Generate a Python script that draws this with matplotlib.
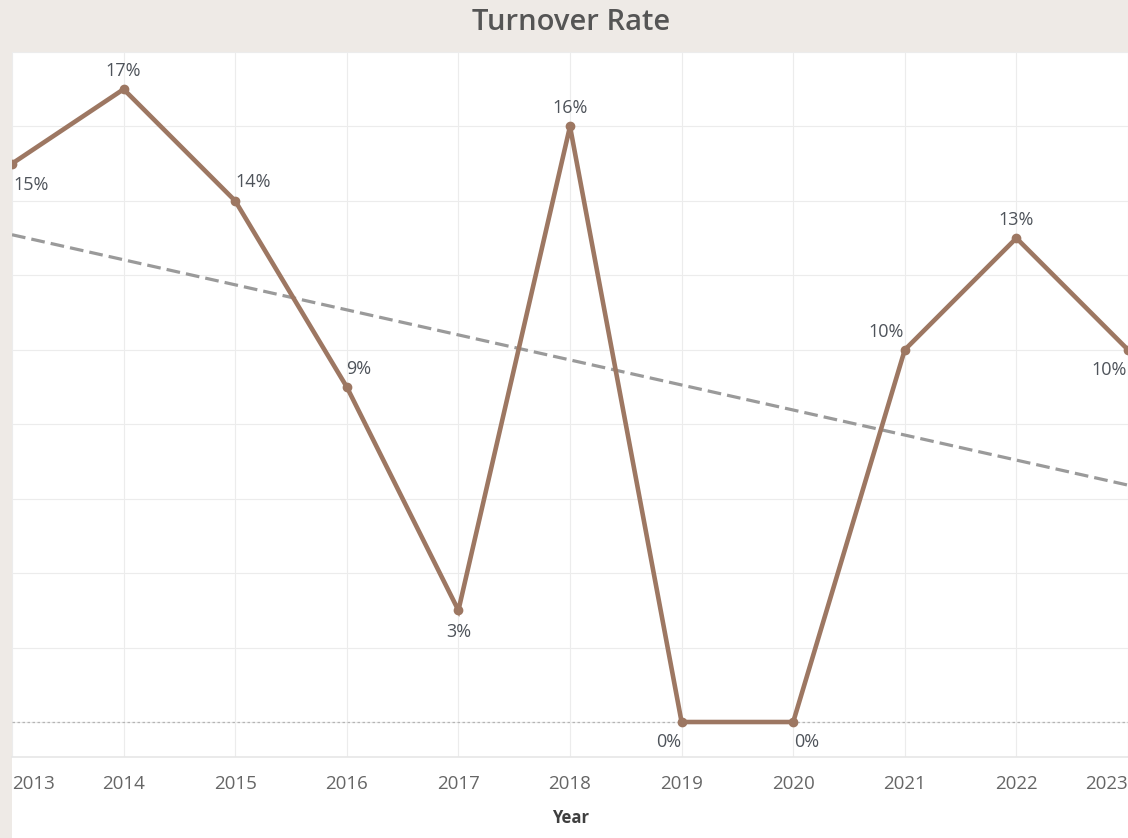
import numpy as np
import matplotlib
matplotlib.use("Agg")
import matplotlib.pyplot as plt
from matplotlib.patches import Rectangle

years = [2013, 2014, 2015, 2016, 2017, 2018, 2019, 2020, 2021, 2022, 2023]
turnover = [15, 17, 14, 9, 3, 16, 0, 0, 10, 13, 10]
year_labels = [str(y) for y in years]

# label offsets in pixels (dx, dy) and horizontal alignment per point
label_pos = [(1, -21, "left"), (0, 18, "center"), (18, 19, "center"), (12, 18, "center"),
             (0, -22, "center"), (0, 18, "center"), (-13, -20, "center"), (13, -20, "center"),
             (-19, 18, "center"), (0, 18, "center"), (-1, -20, "right")]

line_color = "#9d7762"
text_color = "#4e535a"
bg_color = "#eeeae6"

plt.rcParams["font.family"] = ["Open Sans", "DejaVu Sans"]

W, H = 1128, 838
fig = plt.figure(figsize=(W / 100, H / 100), dpi=100, facecolor=bg_color)
fig.patches.append(Rectangle((12 / W, 0), 1 - 12 / W, 1 - 52 / H, transform=fig.transFigure,
                             facecolor="white", edgecolor="none", zorder=-10))

ax = fig.add_axes([12 / W, 1 - 757 / H, 1 - 12 / W, (757 - 52) / H])
ax.set_facecolor("white")
ax.set_xlim(2013, 2023)
ax.set_ylim(-0.94, 17.97)

ax.set_yticks(np.arange(0, 18.1, 2))
ax.set_xticks(years)
ax.set_xticklabels(year_labels)
ax.tick_params(axis="y", length=0, labelleft=False)
ax.tick_params(axis="x", length=0, pad=13, labelsize=13.5, labelcolor="#666666")
ax.get_xticklabels()[0].set_horizontalalignment("left")
ax.get_xticklabels()[-1].set_horizontalalignment("right")
ax.grid(True, color="#ececec", linewidth=0.8)
ax.set_axisbelow(True)
for s in ax.spines.values():
    s.set_visible(False)
ax.axhline(-0.94, color="#e6e6e6", linewidth=1.2, clip_on=False)

# zero reference line
ax.axhline(0, color="#b5b5b5", linewidth=0.9, linestyle=(0, (2, 2)), zorder=1)

# linear trend
x = np.array(years, dtype=float)
slope, intercept = np.polyfit(x, turnover, 1)
ax.plot(x, slope * x + intercept, color="#9a9a9a", linewidth=2.3,
        linestyle=(0, (4.3, 1.9)), zorder=2)

ax.plot(years, turnover, color=line_color, linewidth=3.3, marker="o", markersize=6,
        solid_joinstyle="miter", zorder=3)

for yr, val, (dx, dy, ha) in zip(years, turnover, label_pos):
    ax.annotate(f"{val}%", (yr, val), xytext=(dx, dy), textcoords="offset pixels",
                ha=ha, va="center", fontsize=13, color=text_color, annotation_clip=False)

fig.text(571 / W, 1 - 22 / H, "Turnover Rate", ha="center", va="center",
         fontsize=21, fontweight="semibold", color="#555555")
fig.text(571 / W, 1 - 818 / H, "Year", ha="center", va="center",
         fontsize=12, fontweight="bold", color="#3f3f3f")

fig.savefig("out.png", dpi=100, facecolor=bg_color)
